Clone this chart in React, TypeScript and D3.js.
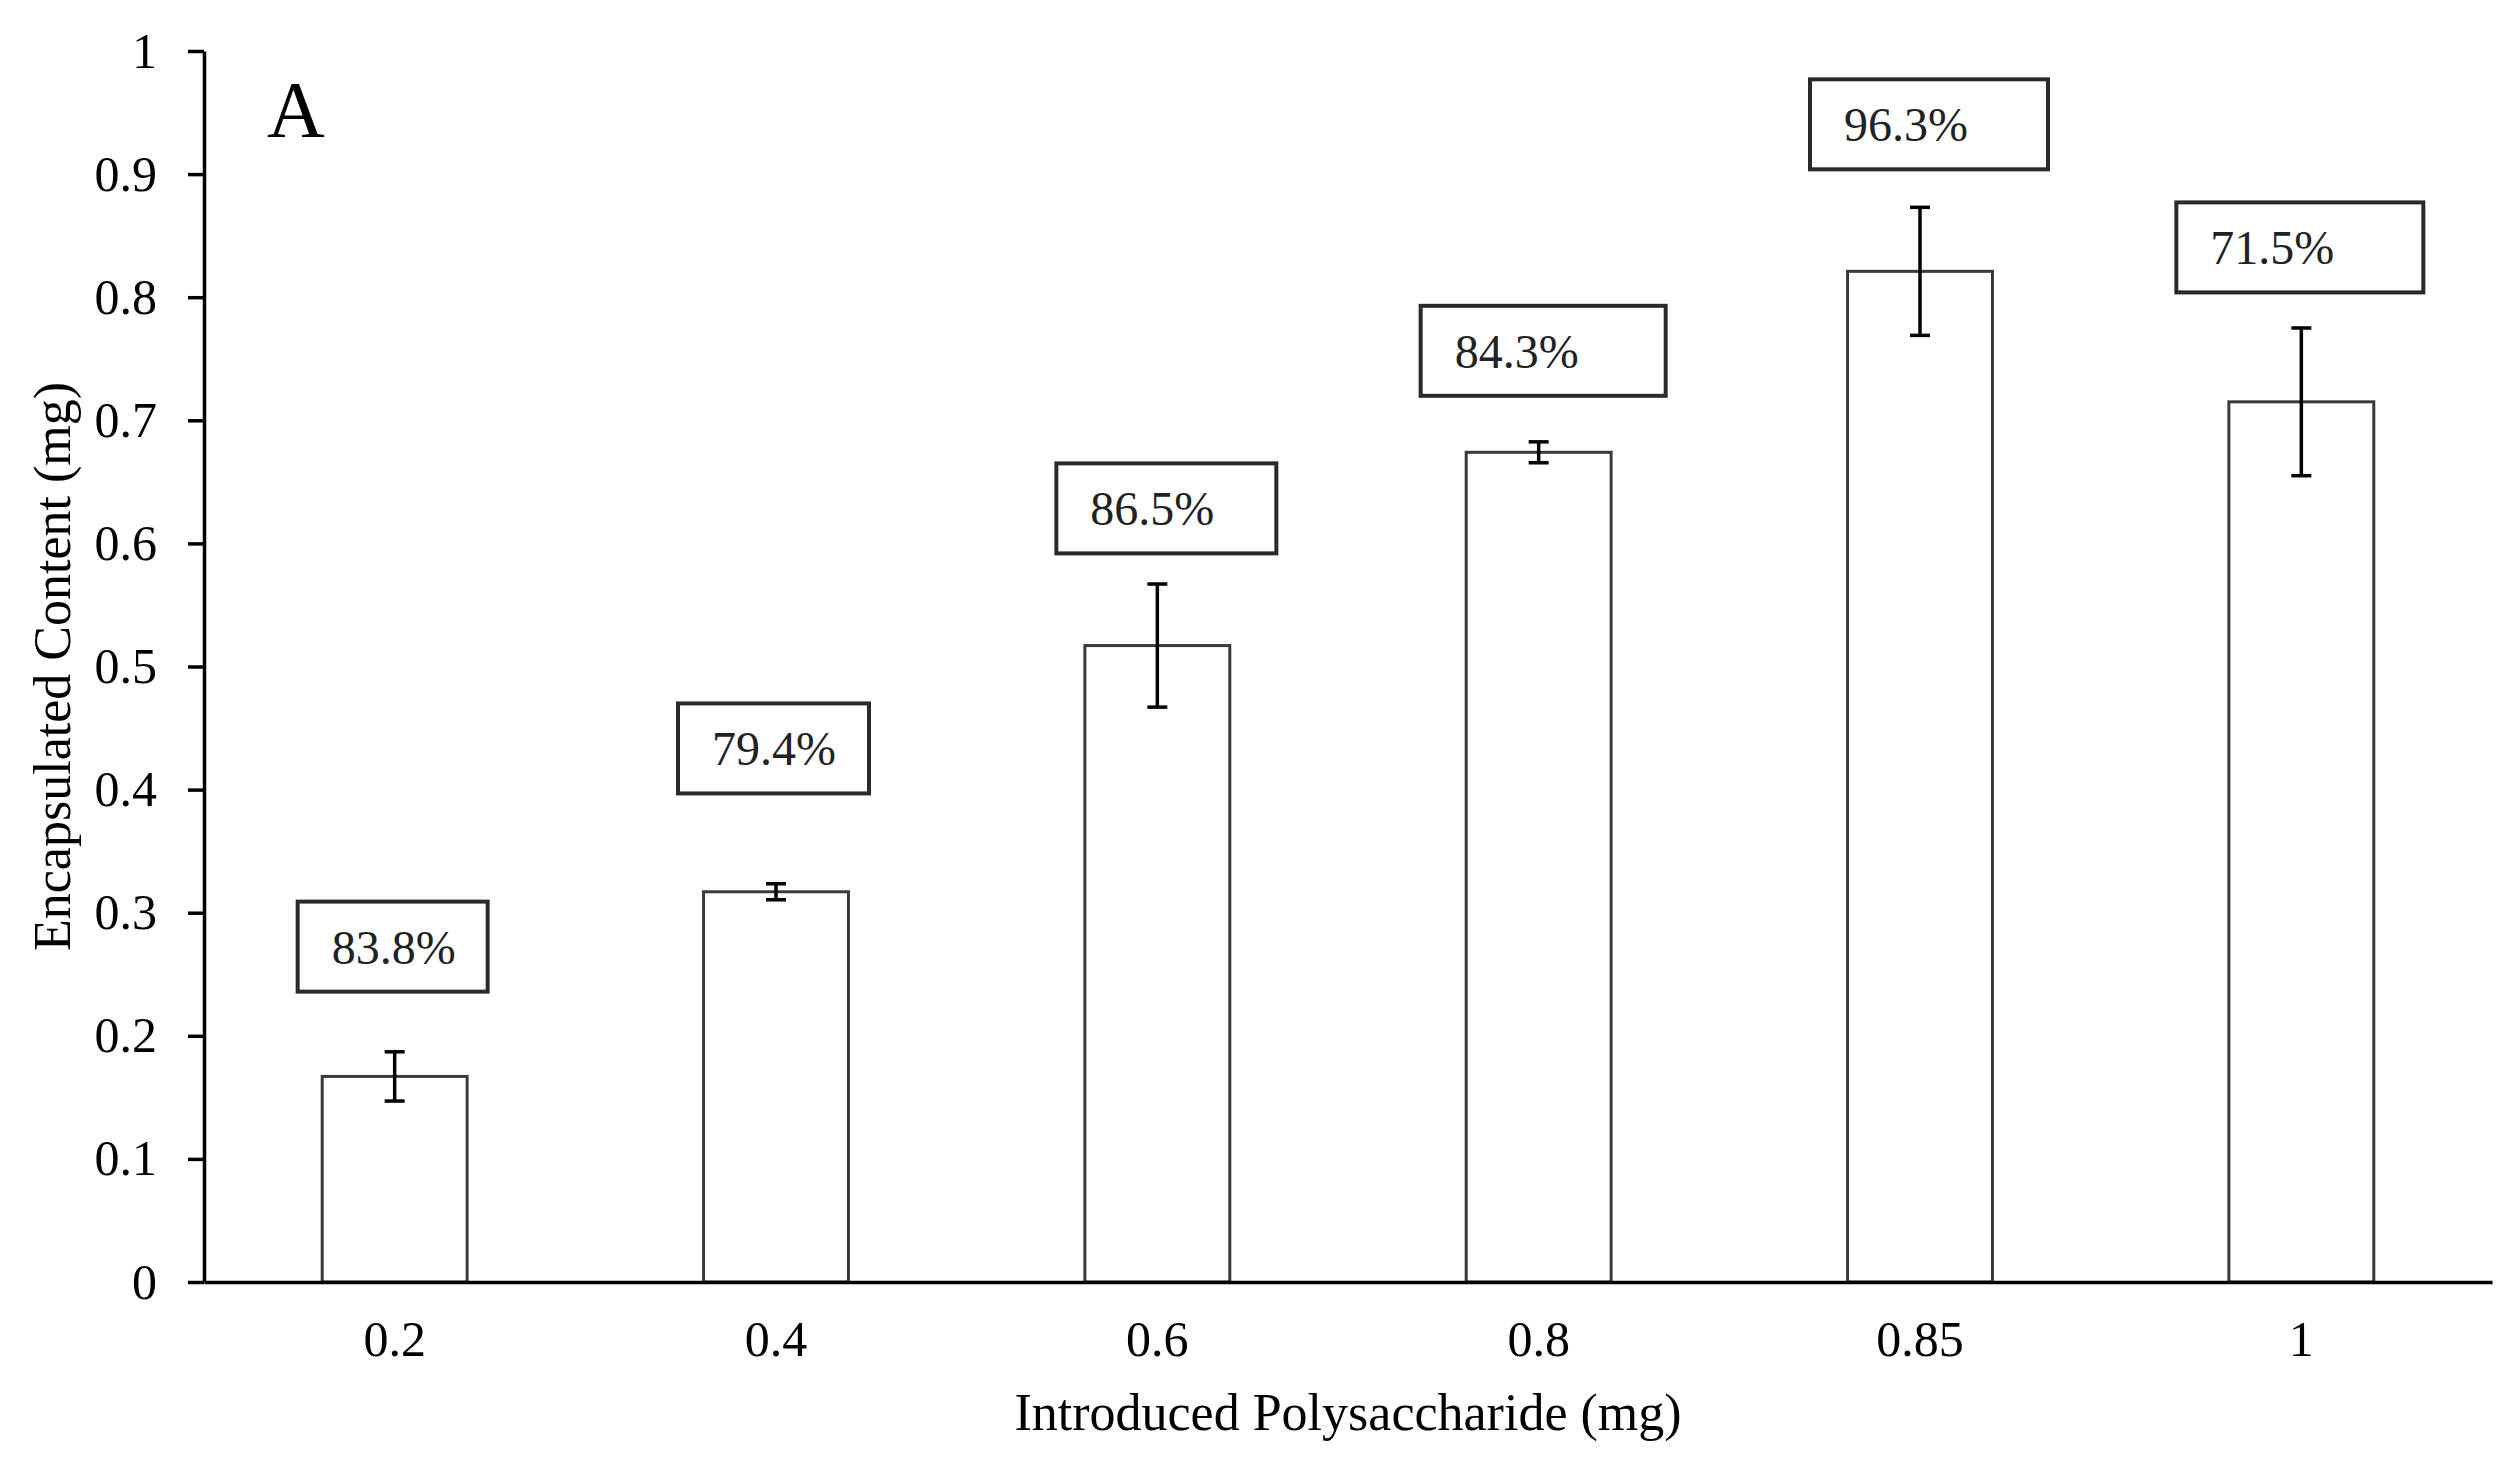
import React, { useEffect, useRef } from 'react'
import * as d3 from 'd3'

// introduced polysaccharide (mg)
const categories = ['0.2', '0.4', '0.6', '0.8', '0.85', '1']
// encapsulated content (mg)
const values = [0.167, 0.317, 0.517, 0.674, 0.821, 0.715]
const errors = [0.02, 0.0065, 0.05, 0.0085, 0.052, 0.06]
// encapsulation efficiency labels
const efficiency = ['83.8%', '79.4%', '86.5%', '84.3%', '96.3%', '71.5%']

// label box layout: left offset from bar centre (px), width (px), top (in mg)
const labelBoxes = [
  { dx: -97, w: 190, top: 0.309 },
  { dx: -98, w: 191, top: 0.47 },
  { dx: -101, w: 220, top: 0.665 },
  { dx: -118, w: 245, top: 0.793 },
  { dx: -110, w: 238, top: 0.977 },
  { dx: -125, w: 247, top: 0.877 },
]

const W = 2519
const H = 1478

export default function App() {
  const svgRef = useRef<SVGSVGElement>(null)

  useEffect(() => {
    if (!svgRef.current) return
    const svg = d3.select(svgRef.current)
    svg.selectAll('*').remove()

    const left = 204
    const right = 2492
    const top = 51
    const bottom = 1282
    const font = "'Liberation Serif', 'Times New Roman', serif"

    const x = d3.scaleBand<string>()
      .domain(categories)
      .range([left, right])
      .paddingInner(0.62)
      .paddingOuter(0.31)

    const y = d3.scaleLinear().domain([0, 1]).range([bottom, top])

    svg.append('rect').attr('width', W).attr('height', H).attr('fill', '#fff')

    // bars
    svg.append('g')
      .selectAll('rect')
      .data(values)
      .join('rect')
      .attr('x', (_, i) => x(categories[i])!)
      .attr('y', d => y(d))
      .attr('width', x.bandwidth())
      .attr('height', d => y(0) - y(d))
      .attr('fill', '#fff')
      .attr('stroke', '#3a3a3a')
      .attr('stroke-width', 3)

    // error bars
    const cap = 10
    const eg = svg.append('g').attr('stroke', '#000').attr('stroke-width', 3.5)
    values.forEach((v, i) => {
      const cx = x(categories[i])! + x.bandwidth() / 2
      const y1 = y(v + errors[i])
      const y2 = y(v - errors[i])
      eg.append('line').attr('x1', cx).attr('x2', cx).attr('y1', y1).attr('y2', y2)
      eg.append('line').attr('x1', cx - cap).attr('x2', cx + cap).attr('y1', y1).attr('y2', y1)
      eg.append('line').attr('x1', cx - cap).attr('x2', cx + cap).attr('y1', y2).attr('y2', y2)
    })

    // label boxes
    const boxH = 90
    efficiency.forEach((label, i) => {
      const b = labelBoxes[i]
      const cx = x(categories[i])! + x.bandwidth() / 2
      const bx = cx + b.dx
      const by = y(b.top)
      svg.append('rect')
        .attr('x', bx)
        .attr('y', by)
        .attr('width', b.w)
        .attr('height', boxH)
        .attr('fill', '#fff')
        .attr('stroke', '#2a2a2a')
        .attr('stroke-width', 4)
      svg.append('text')
        .attr('x', bx + 34)
        .attr('y', by + 62)
        .attr('font-family', font)
        .attr('font-size', 48)
        .attr('fill', '#222')
        .text(label)
    })

    // y axis
    const yAxis = svg.append('g')
      .attr('transform', `translate(${left},0)`)
      .call(
        d3.axisLeft(y)
          .tickValues(d3.range(0, 11).map(d => d / 10))
          .tickFormat(d => String(+(+d).toFixed(1)))
          .tickSizeInner(16)
          .tickSizeOuter(0)
          .tickPadding(31)
      )
    yAxis.select('.domain').attr('stroke', '#000').attr('stroke-width', 3.5)
    yAxis.selectAll('.tick line').attr('stroke', '#000').attr('stroke-width', 3.5)
    yAxis.selectAll('.tick text')
      .attr('font-family', font)
      .attr('font-size', 50)
      .attr('fill', '#000')

    // x axis
    const xAxis = svg.append('g')
      .attr('transform', `translate(0,${bottom})`)
      .call(d3.axisBottom(x).tickSizeInner(0).tickSizeOuter(0).tickPadding(38))
    xAxis.select('.domain').attr('stroke', '#000').attr('stroke-width', 3.5)
    xAxis.selectAll('.tick text')
      .attr('font-family', font)
      .attr('font-size', 50)
      .attr('fill', '#000')

    // axis titles
    svg.append('text')
      .attr('x', (left + right) / 2)
      .attr('y', 1430)
      .attr('text-anchor', 'middle')
      .attr('font-family', font)
      .attr('font-size', 52)
      .attr('fill', '#000')
      .text('Introduced Polysaccharide (mg)')

    svg.append('text')
      .attr('transform', `translate(70,${(top + bottom) / 2}) rotate(-90)`)
      .attr('text-anchor', 'middle')
      .attr('font-family', font)
      .attr('font-size', 52)
      .attr('fill', '#000')
      .text('Encapsulated Content (mg)')

    // panel letter
    svg.append('text')
      .attr('x', 267)
      .attr('y', 137)
      .attr('font-family', font)
      .attr('font-size', 80)
      .attr('fill', '#000')
      .text('A')
  }, [])

  return (
    <div style={{ position: 'absolute', left: 0, top: 0 }}>
      <svg ref={svgRef} width={W} height={H} style={{ display: 'block' }} />
    </div>
  )
}
